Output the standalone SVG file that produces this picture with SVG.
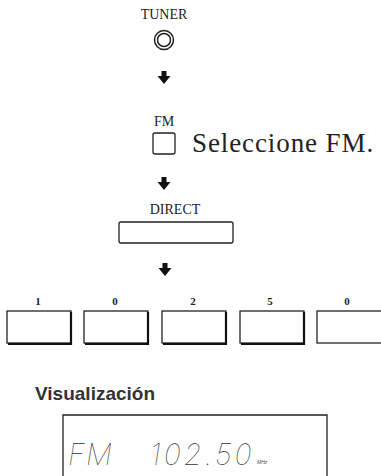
<svg xmlns="http://www.w3.org/2000/svg" width="381" height="476" viewBox="0 0 381 476">
<style>
.lbl{font-family:"Liberation Serif","Times New Roman",serif;font-size:14px;fill:#222;text-anchor:middle}
.dig{font-family:"Liberation Serif","Times New Roman",serif;font-size:11px;font-weight:bold;fill:#222;text-anchor:middle}
.btn{fill:#fff;stroke:#222;stroke-width:1.3}
.key{fill:#fff;stroke:#111;stroke-width:1.2}
.sh{fill:none;stroke:#111;stroke-width:2.2}
.arr{fill:#111}
.lcd{font-family:Inter,"DejaVu Sans",sans-serif;font-weight:100;font-style:italic;fill:#333}
</style>
<defs>
<path id="arrow" d="M-2.5,0 H2.5 V5 H6.5 L0,13 L-6.5,5 H-2.5 Z"/>
</defs>
<rect width="381" height="476" fill="#fff"/>
<g id="tuner">
<text class="lbl" x="164" y="19">TUNER</text>
<circle cx="164" cy="40" r="9.5" fill="none" stroke="#222" stroke-width="1.5"/>
<circle cx="164" cy="40" r="6.5" fill="none" stroke="#222" stroke-width="1.5"/>
</g>
<g id="connectors" class="arr">
<use href="#arrow" x="164" y="71"/>
<use href="#arrow" x="164" y="177"/>
<use href="#arrow" x="165" y="263"/>
</g>
<g id="fm">
<text class="lbl" x="164" y="126">FM</text>
<rect class="btn" x="153" y="133" width="22" height="21" rx="2"/>
<text x="192" y="152" font-family="'Liberation Serif','Times New Roman',serif" font-size="27" letter-spacing="0.9" fill="#222">Seleccione FM.</text>
</g>
<g id="direct">
<text class="lbl" x="175" y="214">DIRECT</text>
<rect class="btn" x="119" y="222" width="114" height="21" rx="2"/>
</g>
<g id="keys">
<text class="dig" x="38" y="305">1</text>
<text class="dig" x="115" y="305">0</text>
<text class="dig" x="193" y="305">2</text>
<text class="dig" x="270" y="305">5</text>
<text class="dig" x="347" y="305">0</text>
<g id="key1"><rect class="key" x="7" y="311" width="64" height="32"/><path class="sh" d="M71,312 V344 H8"/></g>
<g id="key2"><rect class="key" x="84" y="311" width="64" height="32"/><path class="sh" d="M148,312 V344 H85"/></g>
<g id="key3"><rect class="key" x="162" y="311" width="64" height="32"/><path class="sh" d="M226,312 V344 H163"/></g>
<g id="key4"><rect class="key" x="240" y="311" width="64" height="32"/><path class="sh" d="M304,312 V344 H241"/></g>
<g id="key5"><rect class="key" x="317" y="311" width="66" height="32"/></g>
</g>
<g id="display">
<text x="35" y="400" font-family="'Liberation Sans',Arial,sans-serif" font-size="19" font-weight="bold" fill="#333">Visualización</text>
<path d="M63,480 V415 H327 V480" fill="none" stroke="#222" stroke-width="1.3"/>
<text class="lcd" x="68" y="465" font-size="29" letter-spacing="1">FM</text>
<text class="lcd" x="150" y="465" font-size="29" letter-spacing="3">102.50</text>
<text x="257" y="464" font-family="'Liberation Sans',Arial,sans-serif" font-size="5" font-style="italic" fill="#444">MHz</text>
</g>
</svg>
